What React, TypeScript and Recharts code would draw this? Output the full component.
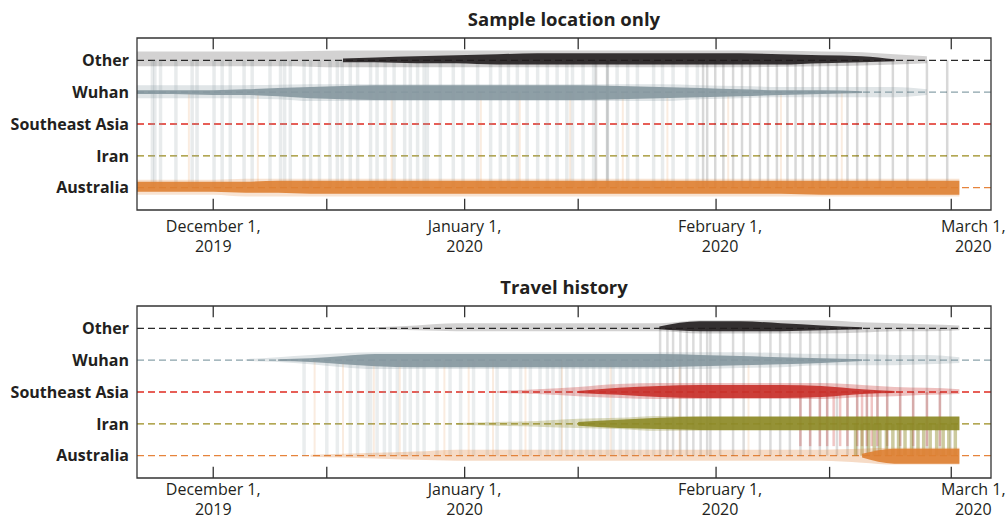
import React from 'react';
import { ComposedChart, Area, XAxis, YAxis, ReferenceLine, ReferenceArea } from 'recharts';

// y level = index into this list
const locations = ['Australia', 'Iran', 'Southeast Asia', 'Wuhan', 'Other'];
const bandColors = ['#de7f32', '#8d8a27', '#c8302a', '#85979f', '#221e1f'];
const dashColors = ['#e6843c', '#9a8b1c', '#e02a20', '#8aa2aa', '#2a2a2a'];

// days since December 1, 2019
const days = [-9.4, -5, 0, 4, 8, 12, 16, 20, 25, 30, 35, 40, 45, 50, 55, 60, 65, 70, 75, 80, 84, 88, 92];
const dayDomain = [-9.4, 95.9];
const tickDays = [0, 14, 31, 45, 62, 76, 91];
const labelDays = [0, 31, 62, 91];
const tickLabels = [
  ['December 1,', '2019'],
  ['January 1,', '2020'],
  ['February 1,', '2020'],
  ['March 1,', '2020'],
];

type Pair = [number, number] | null; // [above, below] the level
const _ = null;

// ---- Sample location only ----
const sampleOtherHaze: Pair[] = [
  [0.28, 0.19], [0.28, 0.19], [0.28, 0.19], [0.28, 0.19], [0.28, 0.19], [0.29, 0.2],
  [0.31, 0.22], [0.31, 0.22], [0.31, 0.22], [0.31, 0.22], [0.31, 0.22], [0.31, 0.22],
  [0.31, 0.22], [0.31, 0.22], [0.31, 0.22], [0.31, 0.22], [0.31, 0.22], [0.3, 0.2],
  [0.28, 0.19], [0.25, 0.16], [0.19, 0.13], [0.13, 0.09], _,
];
const sampleOtherCore: Pair[] = [
  _, _, _, _, _, _,
  [0.06, 0.06], [0.09, 0.06], [0.13, 0.09], [0.16, 0.09], [0.19, 0.13], [0.22, 0.13],
  [0.22, 0.13], [0.22, 0.13], [0.22, 0.13], [0.22, 0.13], [0.22, 0.13], [0.19, 0.13],
  [0.16, 0.09], [0.13, 0.06], [0.03, 0.03], _, _,
];
const sampleWuhanHaze: Pair[] = [
  [0.22, 0.19], [0.22, 0.19], [0.22, 0.19], [0.22, 0.2], [0.23, 0.22], [0.25, 0.28],
  [0.25, 0.28], [0.25, 0.28], [0.25, 0.28], [0.25, 0.28], [0.25, 0.28], [0.25, 0.28],
  [0.25, 0.28], [0.25, 0.28], [0.25, 0.28], [0.22, 0.22], [0.19, 0.19], [0.16, 0.16],
  [0.16, 0.16], [0.16, 0.16], [0.16, 0.16], [0.09, 0.09], _,
];
const sampleWuhanCore: Pair[] = [
  [0.06, 0.06], [0.06, 0.06], [0.06, 0.09], [0.09, 0.09], [0.13, 0.13], [0.16, 0.19],
  [0.19, 0.22], [0.22, 0.25], [0.22, 0.25], [0.22, 0.25], [0.22, 0.25], [0.22, 0.25],
  [0.22, 0.25], [0.19, 0.22], [0.16, 0.19], [0.13, 0.16], [0.09, 0.13], [0.06, 0.09],
  [0.06, 0.06], [0.03, 0.03], _, _, _,
];
const sampleAusHaze: Pair[] = [
  [0.25, 0.22], [0.25, 0.22], [0.25, 0.22], [0.28, 0.28], [0.28, 0.28], [0.28, 0.28],
  [0.28, 0.28], [0.28, 0.28], [0.28, 0.28], [0.28, 0.28], [0.28, 0.28], [0.28, 0.28],
  [0.28, 0.28], [0.28, 0.28], [0.28, 0.28], [0.28, 0.28], [0.28, 0.28], [0.28, 0.28],
  [0.28, 0.28], [0.28, 0.28], [0.28, 0.28], [0.28, 0.28], [0.28, 0.28],
];
const sampleAusCore: Pair[] = [
  [0.19, 0.13], [0.19, 0.13], [0.19, 0.13], [0.19, 0.16], [0.22, 0.16], [0.22, 0.19],
  [0.22, 0.19], [0.22, 0.19], [0.22, 0.19], [0.22, 0.19], [0.22, 0.19], [0.22, 0.19],
  [0.22, 0.19], [0.22, 0.19], [0.22, 0.19], [0.22, 0.19], [0.22, 0.19], [0.22, 0.19],
  [0.22, 0.22], [0.22, 0.22], [0.22, 0.22], [0.22, 0.22], [0.22, 0.22],
];

// ---- Travel history ----
const travelOtherHaze: Pair[] = [
  _, _, _, _, _, _, _,
  [0.03, 0.03], [0.09, 0.06], [0.16, 0.09], [0.16, 0.09], [0.16, 0.09], [0.16, 0.09],
  [0.16, 0.09], [0.16, 0.09], [0.25, 0.16], [0.25, 0.16], [0.25, 0.16], [0.25, 0.16],
  [0.19, 0.13], [0.16, 0.09], [0.13, 0.09], [0.09, 0.06],
];
const travelOtherCore: Pair[] = [
  _, _, _, _, _, _, _, _, _, _, _, _, _, _,
  [0.06, 0.03], [0.22, 0.09], [0.22, 0.09], [0.16, 0.09], [0.09, 0.06], [0.03, 0.03],
  _, _, _,
];
const travelWuhanHaze: Pair[] = [
  _, _, _,
  [0.03, 0.03], [0.09, 0.06], [0.16, 0.13], [0.22, 0.22], [0.25, 0.28], [0.25, 0.28],
  [0.25, 0.28], [0.25, 0.28], [0.25, 0.28], [0.25, 0.28], [0.25, 0.28], [0.25, 0.28],
  [0.25, 0.28], [0.25, 0.25], [0.22, 0.22], [0.19, 0.16], [0.19, 0.16], [0.16, 0.16],
  [0.16, 0.13], [0.09, 0.09],
];
const travelWuhanCore: Pair[] = [
  _, _, _, _,
  [0.03, 0.03], [0.06, 0.06], [0.13, 0.13], [0.19, 0.19], [0.19, 0.22], [0.19, 0.22],
  [0.19, 0.22], [0.19, 0.22], [0.19, 0.22], [0.19, 0.22], [0.19, 0.22], [0.16, 0.19],
  [0.13, 0.16], [0.09, 0.13], [0.06, 0.09], [0.03, 0.03], _, _, _,
];
const travelSeaHaze: Pair[] = [
  _, _, _, _, _, _, _, _, _, _,
  [0.03, 0.03], [0.09, 0.06], [0.16, 0.13], [0.25, 0.19], [0.28, 0.22], [0.28, 0.22],
  [0.28, 0.22], [0.28, 0.22], [0.28, 0.22], [0.22, 0.16], [0.16, 0.13], [0.13, 0.09],
  [0.09, 0.06],
];
const travelSeaCore: Pair[] = [
  _, _, _, _, _, _, _, _, _, _, _, _,
  [0.03, 0.03], [0.13, 0.09], [0.19, 0.16], [0.22, 0.19], [0.22, 0.19], [0.22, 0.19],
  [0.19, 0.16], [0.09, 0.06], [0.03, 0.03], _, _,
];
const travelIranHaze: Pair[] = [
  _, _, _, _, _, _, _, _, _,
  [0.03, 0.03], [0.06, 0.06], [0.09, 0.09], [0.16, 0.13], [0.19, 0.16], [0.25, 0.22],
  [0.25, 0.22], [0.25, 0.22], [0.25, 0.22], [0.25, 0.22], [0.25, 0.22], [0.25, 0.22],
  [0.25, 0.22], [0.25, 0.22],
];
const travelIranCore: Pair[] = [
  _, _, _, _, _, _, _, _, _, _, _, _,
  [0.06, 0.06], [0.13, 0.13], [0.19, 0.16], [0.22, 0.19], [0.22, 0.19], [0.22, 0.19],
  [0.22, 0.19], [0.22, 0.19], [0.22, 0.19], [0.22, 0.19], [0.22, 0.19],
];
const travelAusHaze: Pair[] = [
  _, _, _, _, _,
  [0.03, 0.03], [0.06, 0.06], [0.09, 0.09], [0.13, 0.13], [0.19, 0.16], [0.19, 0.16],
  [0.19, 0.16], [0.19, 0.16], [0.19, 0.16], [0.19, 0.16], [0.19, 0.16], [0.19, 0.16],
  [0.19, 0.16], [0.19, 0.16], [0.22, 0.22], [0.25, 0.28], [0.25, 0.28], [0.25, 0.28],
];
const travelAusCore: Pair[] = [
  _, _, _, _, _, _, _, _, _, _, _, _, _, _, _, _, _, _, _,
  [0.06, 0.06], [0.22, 0.25], [0.22, 0.25], [0.22, 0.25],
];

// lineage jumps between locations (days), drawn as faint vertical strokes
const sampleGrayDays = [
  -7.5, -7.2, -6.5, -4.6, -2.6, -2.0, 0.1, 1.1, 2.1, 3.8, 4.8, 7.0, 8.3, 8.8, 9.5, 11.2, 12.0,
  13.1, 14.4, 15.3, 15.9, 16.9, 17.8, 19.4, 20.2, 21.2, 22.3, 23.6, 24.3, 25.2, 26.0, 26.4,
  28.0, 29.6, 30.8, 32.6, 34.2, 35.4, 36.4, 37.5, 38.7, 40.0, 41.2, 42.4, 43.6, 44.3, 45.6,
  46.9, 48.6, 49.8, 51.1, 52.3, 54.3, 55.4, 56.7, 58.4, 59.7,
];
const sampleDarkDays = [
  47.2, 48.6, 60.4, 60.9, 61.9, 62.9, 64.1, 65.2, 66.2, 67.4, 68.4, 69.5, 70.8, 71.8, 72.7,
  73.9, 74.8, 75.8, 76.9, 78.2, 79.4, 80.6, 82.2, 83.8, 85.6, 88.0, 90.5,
];
const sampleOrangeDays = [-3.0, 5.5, 22.0, 33.0, 37.8, 44.0, 50.5, 56.0, 63.5, 70.0, 77.5];

const travelGrayDays = [
  11.2, 14.0, 15.3, 16.9, 17.8, 19.0, 19.4, 20.2, 21.1, 21.8, 22.7, 23.6, 24.3, 25.2, 26.0,
  27.6, 29.2, 30.5, 32.1, 33.8, 35.0, 36.6, 37.9, 39.1, 40.3, 41.2, 41.9, 42.8, 43.6, 44.4,
  45.3, 46.1, 46.9, 47.7, 48.6, 49.3, 50.2, 51.0, 51.8, 52.6, 53.5, 54.3,
];
const travelDarkDays = [
  55.1, 56.0, 56.7, 57.6, 58.4, 59.2, 60.1, 60.9, 61.3, 62.5, 64.1, 65.4, 67.4, 68.7, 69.9,
  71.1, 72.4, 73.6, 74.8, 75.7, 76.9, 78.2, 79.4, 80.6, 81.9, 83.1, 84.7, 86.3, 88.0, 89.6, 90.9,
];
const travelRedDays = [
  72.4, 73.6, 74.8, 75.7, 76.5, 77.3, 78.2, 79.4, 80.0, 80.6, 81.2, 81.9, 83.1, 84.7, 86.3,
  88.0, 89.6,
];
const travelOliveDays = [
  79.2, 80.0, 80.8, 81.5, 82.2, 83.0, 83.8, 84.5, 85.3, 86.1, 86.9, 87.6, 88.4, 89.2, 90.0,
  90.7, 91.5,
];
const travelOrangeDays = [12.5, 16.0, 19.8, 23.0, 28.5, 31.5, 34.5, 38.5, 43.0, 49.0, 57.5, 66.0];

const FONT = '"Open Sans", sans-serif';
const INK = '#231f20';

interface Band {
  key: string;
  level: number;
  haze: Pair[];
  core: Pair[];
  hazeOpacity: number;
}

interface Jumps {
  days: number[];
  from: number;
  to: number;
  color: string;
  opacity: number;
  width: number;
}

const sampleBands: Band[] = [
  { key: 'aus', level: 0, haze: sampleAusHaze, core: sampleAusCore, hazeOpacity: 0.22 },
  { key: 'wuhan', level: 3, haze: sampleWuhanHaze, core: sampleWuhanCore, hazeOpacity: 0.25 },
  { key: 'other', level: 4, haze: sampleOtherHaze, core: sampleOtherCore, hazeOpacity: 0.2 },
];
const travelBands: Band[] = [
  { key: 'aus', level: 0, haze: travelAusHaze, core: travelAusCore, hazeOpacity: 0.28 },
  { key: 'iran', level: 1, haze: travelIranHaze, core: travelIranCore, hazeOpacity: 0.3 },
  { key: 'sea', level: 2, haze: travelSeaHaze, core: travelSeaCore, hazeOpacity: 0.3 },
  { key: 'wuhan', level: 3, haze: travelWuhanHaze, core: travelWuhanCore, hazeOpacity: 0.25 },
  { key: 'other', level: 4, haze: travelOtherHaze, core: travelOtherCore, hazeOpacity: 0.2 },
];

const sampleJumps: Jumps[] = [
  { days: sampleGrayDays, from: 4, to: 0, color: '#8a999f', opacity: 0.2, width: 3.5 },
  { days: sampleOrangeDays, from: 3, to: 0, color: '#e0893e', opacity: 0.16, width: 2 },
  { days: sampleDarkDays, from: 4, to: 0, color: '#3a3a3a', opacity: 0.2, width: 2.5 },
];
const travelJumps: Jumps[] = [
  { days: travelGrayDays, from: 3, to: 0, color: '#8a999f', opacity: 0.18, width: 3.5 },
  { days: travelOrangeDays, from: 3, to: 0, color: '#e0893e', opacity: 0.16, width: 2 },
  { days: travelDarkDays, from: 4, to: 0, color: '#3a3a3a', opacity: 0.18, width: 2.5 },
  { days: travelRedDays, from: 2, to: 0.3, color: '#c8302a', opacity: 0.28, width: 2.5 },
  { days: travelOliveDays, from: 1, to: 0, color: '#8d8a27', opacity: 0.45, width: 3.5 },
];

function buildRows(bands: Band[]) {
  return days.map((day, i) => {
    const row: Record<string, any> = { day };
    bands.forEach((b) => {
      const h = b.haze[i];
      const c = b.core[i];
      row[b.key + 'Haze'] = h ? [b.level - h[1], b.level + h[0]] : null;
      row[b.key + 'Core'] = c ? [b.level - c[1], b.level + c[0]] : null;
    });
    return row;
  });
}

const YTick = (props: any) => {
  const { x, y, payload } = props;
  return (
    <text x={x} y={y} dy="0.36em" textAnchor="end" fontFamily={FONT} fontWeight={700} fontSize={16} fill={INK}>
      {locations[payload.value]}
    </text>
  );
};

const makeXTick = (firstDy: number, secondDy: number) => (props: any) => {
  const { x, y, payload } = props;
  const idx = labelDays.indexOf(payload.value);
  if (idx < 0) return null;
  const lines = tickLabels[idx];
  // last label is nudged right in the original layout
  const cx = idx === labelDays.length - 1 ? x + 22 : idx === 2 ? x + 4 : x;
  return (
    <text x={cx} y={y} textAnchor="middle" fontFamily={FONT} fontSize={16} fill={INK}>
      <tspan x={cx} dy={firstDy}>{lines[0]}</tspan>
      <tspan x={cx} dy={secondDy}>{lines[1]}</tspan>
    </text>
  );
};

const TopXTick = makeXTick(22, 20);
const BottomXTick = makeXTick(17, 20);

function Panel({
  title,
  bands,
  jumps,
  top,
  height,
  XTick,
}: {
  title: string;
  bands: Band[];
  jumps: Jumps[];
  top: number;
  height: number;
  XTick: (p: any) => any;
}) {
  const rows = buildRows(bands);
  // plot area always spans y 38..210 inside the panel
  const bottomMargin = height - 210 - 41;
  return (
    <div style={{ position: 'absolute', left: 0, top, width: 1008, height }}>
      <div
        style={{
          position: 'absolute',
          left: 137,
          width: 854,
          top: 6,
          textAlign: 'center',
          fontFamily: FONT,
          fontWeight: 700,
          fontSize: 18.5,
          color: INK,
          lineHeight: '26px',
        }}
      >
        {title}
      </div>
      <ComposedChart
        width={1008}
        height={height}
        data={rows}
        margin={{ top: 38, right: 17, bottom: bottomMargin, left: 7 }}
      >
        <XAxis
          dataKey="day"
          type="number"
          domain={dayDomain}
          allowDataOverflow
          ticks={labelDays}
          tick={<XTick />}
          tickLine={false}
          axisLine={false}
          tickSize={0}
          tickMargin={0}
          height={41}
          interval={0}
        />
        <YAxis
          type="number"
          domain={[-0.7, 4.7]}
          allowDataOverflow
          ticks={[0, 1, 2, 3, 4]}
          tick={<YTick />}
          tickLine={false}
          axisLine={false}
          tickSize={0}
          tickMargin={8}
          width={130}
          interval={0}
        />
        {locations.map((loc, i) => (
          <ReferenceLine
            key={'dash-' + loc}
            y={i}
            stroke={dashColors[i]}
            strokeDasharray="7 4"
            strokeWidth={1.3}
            zIndex={50}
          />
        ))}
        {jumps.map((g, gi) =>
          g.days.map((d, di) => (
            <ReferenceLine
              key={`j-${gi}-${di}`}
              segment={[{ x: d, y: g.from }, { x: d, y: g.to }]}
              stroke={g.color}
              strokeOpacity={g.opacity}
              strokeWidth={g.width}
              ifOverflow="visible"
              zIndex={60}
            />
          ))
        )}
        {bands.map((b) => (
          <Area
            key={b.key + 'Haze'}
            dataKey={b.key + 'Haze'}
            type="monotone"
            stroke="none"
            fill={bandColors[b.level]}
            fillOpacity={b.hazeOpacity}
            isAnimationActive={false}
            dot={false}
            activeDot={false}
            zIndex={100}
          />
        ))}
        {bands.map((b) => (
          <Area
            key={b.key + 'Core'}
            dataKey={b.key + 'Core'}
            type="monotone"
            stroke="none"
            fill={bandColors[b.level]}
            fillOpacity={0.9}
            isAnimationActive={false}
            dot={false}
            activeDot={false}
            zIndex={110}
          />
        ))}
        {tickDays.map((t) => (
          <ReferenceLine
            key={'tt' + t}
            segment={[{ x: t, y: 4.7 }, { x: t, y: 4.35 }]}
            stroke="#333"
            strokeWidth={1.3}
            ifOverflow="visible"
            zIndex={200}
          />
        ))}
        {tickDays.map((t) => (
          <ReferenceLine
            key={'tb' + t}
            segment={[{ x: t, y: -0.7 }, { x: t, y: -0.35 }]}
            stroke="#333"
            strokeWidth={1.3}
            ifOverflow="visible"
            zIndex={200}
          />
        ))}
        <ReferenceArea
          x1={dayDomain[0]}
          x2={dayDomain[1]}
          y1={-0.7}
          y2={4.7}
          fill="none"
          fillOpacity={0}
          stroke="#333"
          strokeWidth={1.3}
          ifOverflow="visible"
          zIndex={210}
        />
      </ComposedChart>
    </div>
  );
}

export default function App() {
  return (
    <div style={{ position: 'absolute', left: 0, top: 0, width: 1008, height: 519, background: '#fff', overflow: 'hidden' }}>
      <Panel title="Sample location only" bands={sampleBands} jumps={sampleJumps} top={0} height={260} XTick={TopXTick} />
      <Panel title="Travel history" bands={travelBands} jumps={travelJumps} top={268} height={251} XTick={BottomXTick} />
    </div>
  );
}
